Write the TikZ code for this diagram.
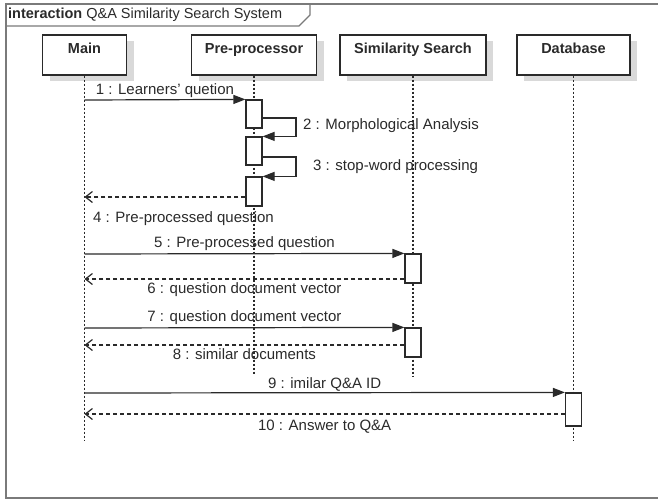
\documentclass[tikz,border=0pt]{standalone}
\usepackage{fontspec}
\setmainfont{Liberation Sans}
\usetikzlibrary{arrows.meta,shadows,calc}
\definecolor{ink}{HTML}{2A2A2A}
\definecolor{framegray}{HTML}{7A7A7A}
\definecolor{shade}{HTML}{D9D9D9}
\begin{document}
\begin{tikzpicture}[x=1pt,y=-1pt,
  every node/.style={text=ink},
  header/.style={draw=ink, line width=1.2pt, fill=white, inner ysep=0pt,
    text height=18pt, text depth=22pt, minimum height=40pt,
    font=\fontsize{14.5}{17}\selectfont\bfseries,
    drop shadow={shadow xshift=7pt, shadow yshift=-6pt, fill=shade, opacity=1}},
  lifeline/.style={draw=ink, line width=1.3pt, dash pattern=on 2pt off 2pt},
  activation/.style={draw=ink, line width=1.2pt, fill=white, minimum width=16pt, inner sep=0pt},
  call/.style={draw=ink, line width=1.2pt, -{Triangle[length=12pt,width=9pt]}},
  reply/.style={draw=ink, line width=1.2pt, dash pattern=on 4pt off 3pt,
    -{Straight Barb[length=7pt,width=11pt,line width=1.2pt]}},
  msg/.style={font=\fontsize{15}{18}\selectfont, inner sep=0pt, anchor=base},
  framebox/.style={draw=framegray, line width=2pt},
  tabline/.style={draw=framegray, line width=1.3pt}
]
\useasboundingbox (0,0) rectangle (658,501);

% interaction frame and its name tab
\draw[framebox] (680,4) -- (6,4) -- (6,498) -- (680,498);
\draw[tabline] (6,26) -- (299,26) -- (310,15) -- (310,4);
\node[anchor=base west, inner sep=0pt, font=\fontsize{14.5}{17}\selectfont] (title) at (8,18)
  {\textbf{interaction} Q\&A Similarity Search System};

% lifeline headers
\node[header, minimum width=84pt]  (main) at (84.5,55) {Main};
\node[header, minimum width=125pt] (pre)  at (254,55)  {Pre-processor};
\node[header, minimum width=146pt] (sim)  at (413,55)  {Similarity Search};
\node[header, minimum width=113pt] (db)   at (573.5,55) {Database};

% lifeline ends
\coordinate (mainend) at (84.5,440);
\coordinate (preend)  at (254,375);
\coordinate (simend)  at (413,376);
\coordinate (dbend)   at (573.5,440);
\draw[lifeline] (main.south) -- (mainend);
\draw[lifeline] (pre.south)  -- (preend);
\draw[lifeline] (sim.south)  -- (simend);
\draw[lifeline] (db.south)   -- (dbend);

% activation bars
\node[activation, minimum height=28pt] (a1) at (254,114)   {};
\node[activation, minimum height=28pt] (a2) at (254,151)   {};
\node[activation, minimum height=29pt] (a3) at (254,191.5) {};
\node[activation, minimum height=29pt] (s1) at (413,268.5) {};
\node[activation, minimum height=29pt] (s2) at (413,342.5) {};
\node[activation, minimum height=33pt] (d1) at (573.5,409.5) {};

% points on the Main lifeline
\coordinate (m1)  at (84.5,100);
\coordinate (m4)  at (84.5,197);
\coordinate (m5)  at (84.5,254);
\coordinate (m6)  at (84.5,279);
\coordinate (m7)  at (84.5,328);
\coordinate (m8)  at (84.5,345);
\coordinate (m9)  at (84.5,393);
\coordinate (m10) at (84.5,414);

% self-call turning points
\coordinate (t2) at (296,118);
\coordinate (t3) at (296,157);

% messages
\draw[call] (m1) -- node[msg, yshift=5pt] {1 : Learners' quetion} (a1.north west);

\draw[call] (a1.east |- t2) -- (t2) -- (t2 |- a2.north) -- (a2.north east);
\node[msg, anchor=base west] (l2) at (303,129) {2 : Morphological Analysis};

\draw[call] (a2.east |- t3) -- (t3) -- (t3 |- a3.north) -- (a3.north east);
\node[msg, anchor=base west] (l3) at (313,170) {3 : stop-word processing};

\draw[reply] (a3.west |- m4) -- (m4);
\node[msg, anchor=base west] (l4) at (93,222) {4 : Pre-processed question};

\draw[call] (m5) -- node[msg, yshift=6pt] {5 : Pre-processed question} (s1.north west);
\draw[reply] (s1.west |- m6) -- node[msg, yshift=-14pt] {6 : question document vector} (m6);

\draw[call] (m7) -- node[msg, yshift=6pt] {7 : question document vector} (s2.north west);
\draw[reply] (s2.west |- m8) -- node[msg, yshift=-14pt] {8 : similar documents} (m8);

\draw[call] (m9) -- node[msg, yshift=4pt] {9 : imilar Q\&A ID} (d1.north west);
\draw[reply] (d1.west |- m10) -- node[msg, yshift=-16pt] {10 : Answer to Q\&A} (m10);
\end{tikzpicture}
\end{document}
